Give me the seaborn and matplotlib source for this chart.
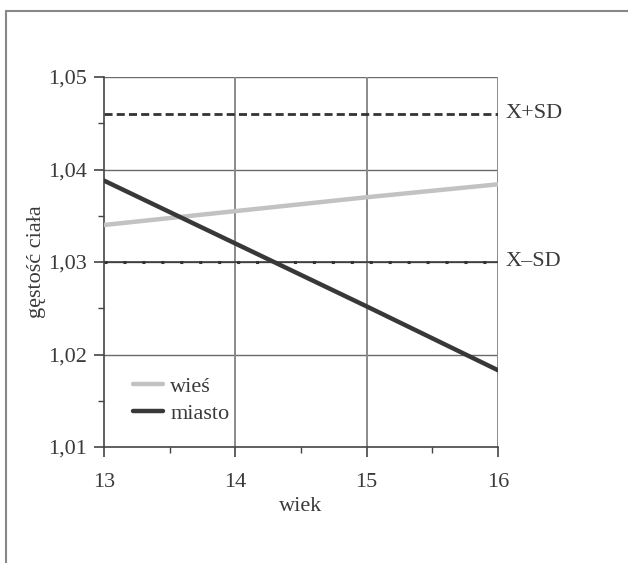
import matplotlib
matplotlib.use("Agg")
import matplotlib.pyplot as plt
import seaborn as sns
import pandas as pd
from matplotlib.lines import Line2D
from matplotlib.ticker import MultipleLocator

# ---- data ----
wiek = [13, 14, 15, 16]
wies = [1.0340, 1.0355, 1.0370, 1.0384]
miasto = [1.0388, 1.0320, 1.0252, 1.0183]
x_plus_sd = 1.046
x_minus_sd = 1.030
y_ticks = [1.01, 1.02, 1.03, 1.04, 1.05]
y_tick_labels = ["1,01", "1,02", "1,03", "1,04", "1,05"]
x_ticks = [13, 14, 15, 16]
x_tick_labels = ["13", "14", "15", "16"]
series_names = ["wieś", "miasto"]

sns.set_style("white")
plt.rcParams["font.family"] = ["Liberation Serif", "DejaVu Serif"]
TXT = "#3a3a3a"
FS = 16

df = pd.DataFrame({
    "wiek": wiek * 2,
    "gęstość": wies + miasto,
    "grupa": [series_names[0]] * len(wiek) + [series_names[1]] * len(wiek),
})

fig = plt.figure(figsize=(6.28, 5.63), dpi=100)
ax = fig.add_axes([104 / 628, 1 - 447 / 563, (498 - 104) / 628, (447 - 77) / 563])

# grid
for yv in y_ticks[1:]:
    ax.axhline(yv, color="#6a6a6a", lw=1.0, zorder=1)
for xv in x_ticks[1:]:
    ax.axvline(xv, color="#8a8a8a", lw=1.4, zorder=1)

# reference lines
ax.axhline(x_plus_sd, color="#333333", lw=2.0, dashes=(2.9, 1.5), zorder=2)
ax.axhline(x_minus_sd, color="#333333", lw=1.1, zorder=2)
ax.axhline(x_minus_sd, color="#333333", lw=2.2, dashes=(1.0, 5.2), zorder=2)

sns.lineplot(data=df, x="wiek", y="gęstość", hue="grupa",
             palette={series_names[0]: "#c2c2c2", series_names[1]: "#383838"},
             lw=3.2, ax=ax, legend=False, zorder=3)

ax.set_xlim(13, 16)
ax.set_ylim(1.01, 1.05)
ax.set_xticks(x_ticks)
ax.set_xticklabels(x_tick_labels)
ax.set_yticks(y_ticks)
ax.set_yticklabels(y_tick_labels)
ax.xaxis.set_minor_locator(MultipleLocator(0.5))
ax.yaxis.set_minor_locator(MultipleLocator(0.005))
ax.tick_params(axis="both", which="major", direction="out", length=7.5, width=1.2,
               color="#444444", labelsize=FS, labelcolor=TXT,
               bottom=True, left=True)
ax.tick_params(axis="x", which="major", pad=11)
ax.tick_params(axis="y", which="major", pad=5)
ax.tick_params(axis="both", which="minor", direction="out", length=4.5, width=1.0,
               color="#444444", bottom=True, left=True)

for s in ["top", "right"]:
    ax.spines[s].set_visible(False)
for s in ["left", "bottom"]:
    ax.spines[s].set_color("#444444")
    ax.spines[s].set_linewidth(1.2)

ax.set_xlabel("wiek", fontsize=FS, color=TXT, labelpad=4)
ax.set_ylabel("gęstość ciała", fontsize=FS, color=TXT, labelpad=1)

ax.text(1.02, x_plus_sd, "X+SD", transform=ax.get_yaxis_transform(),
        va="center", ha="left", fontsize=FS, color=TXT)
ax.text(1.02, x_minus_sd, "X\u2013SD", transform=ax.get_yaxis_transform(),
        va="center", ha="left", fontsize=FS, color=TXT)

handles = [Line2D([], [], color="#c2c2c2", lw=3.2),
           Line2D([], [], color="#383838", lw=3.2)]
ax.legend(handles, series_names, loc="upper left", bbox_to_anchor=(0.05, 0.215),
          frameon=False, fontsize=FS, handlelength=1.35, handletextpad=0.35,
          labelspacing=0.3, labelcolor=TXT, borderaxespad=0)

# outer frame
fig.add_artist(Line2D([5.5 / 628, 5.5 / 628], [0, 1 - 10.5 / 563],
                      transform=fig.transFigure, color="#888888", lw=1.5))
fig.add_artist(Line2D([5.5 / 628, 1], [1 - 10.5 / 563, 1 - 10.5 / 563],
                      transform=fig.transFigure, color="#888888", lw=1.5))

fig.savefig("out.png", dpi=100, facecolor="white")
